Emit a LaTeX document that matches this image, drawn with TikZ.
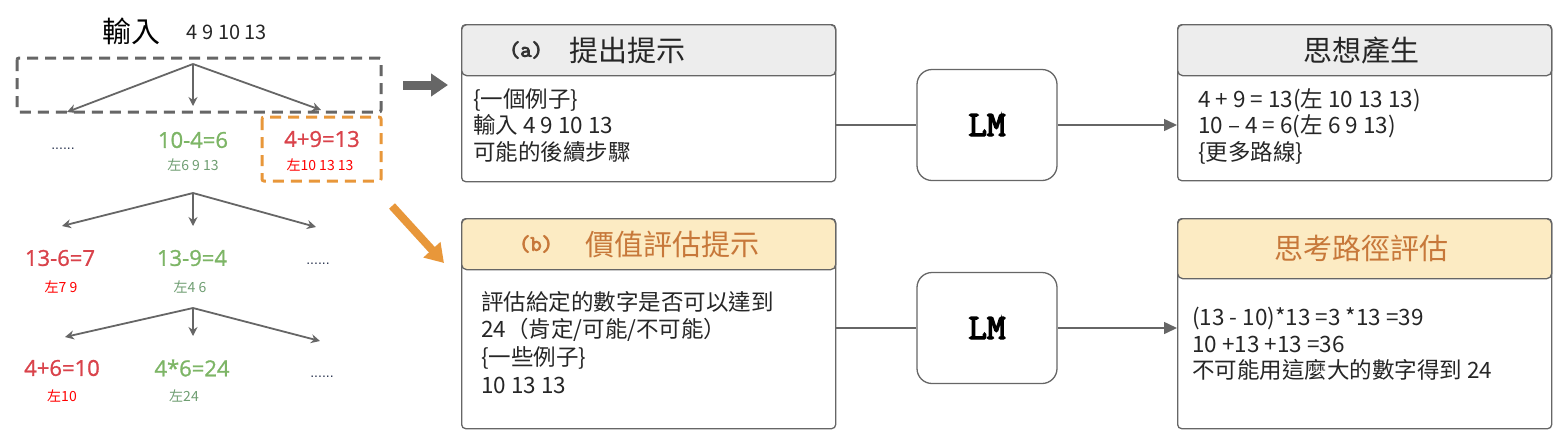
\documentclass[tikz,border=0pt]{standalone}
\usepackage{fontspec}
\setmainfont{Liberation Sans}
\newfontfamily\cjk{Noto Sans CJK TC}
\newfontfamily\treefont{Open Sans}[FakeBold=1.2]
\newfontfamily\monob{Latin Modern Mono}[FakeBold=4]
\usetikzlibrary{positioning}
\usetikzlibrary{arrows.meta}
\usepackage{xcolor}
\definecolor{linegray}{HTML}{666666}
\definecolor{headgray}{HTML}{EDEDED}
\definecolor{headyellow}{HTML}{FCEBC3}
\definecolor{txtorange}{HTML}{C7783A}
\definecolor{arroworange}{HTML}{E8973A}
\definecolor{eqred}{HTML}{D9434B}
\definecolor{eqgreen}{HTML}{7DB566}
\definecolor{lblgreen}{HTML}{6F9E72}
\definecolor{dotnavy}{HTML}{2B3550}

\tikzset{
  panel/.style={draw=linegray, line width=1.3pt, rounded corners=4pt, fill=white,
    minimum width=374, minimum height=#1, inner sep=0, anchor=north west},
  header/.style={draw=linegray, line width=1.3pt, rounded corners=5pt, fill=#1,
    minimum width=374, minimum height=51, inner sep=0, anchor=north west},
  bodytext/.style={align=left, anchor=north west, inner sep=0, text=black!85,
    font=\cjk\fontsize{22.5}{#1}\selectfont},
  headtext/.style={font=\cjk\fontsize{29}{29}\selectfont, text=#1},
  tag/.style={font=\monob\fontsize{22}{22}\selectfont, text=#1},
  lmbox/.style={draw=linegray, line width=1.3pt, rounded corners=15pt, fill=white,
    minimum width=140, minimum height=111, font=\monob\fontsize{36}{36}\selectfont},
  treearrow/.style={draw=linegray, line width=1.8pt, -{Stealth[length=9pt,width=9pt]}},
  flowarrow/.style={draw=linegray, line width=1.5pt},
  eqr/.style={text=eqred, font=\treefont\fontsize{22}{22}\selectfont},
  eqg/.style={text=eqgreen, font=\treefont\fontsize{22}{22}\selectfont},
  lblr/.style={text=red, font=\cjk\fontsize{14}{14}\selectfont},
  lblg/.style={text=lblgreen, font=\cjk\fontsize{14}{14}\selectfont},
  dots/.style={text=dotnavy, font=\fontsize{14}{14}\selectfont},
}

\begin{document}
\begin{tikzpicture}[x=1pt, y=-1pt]
    \useasboundingbox (0,0) rectangle (1557,440);

    % search tree on the left
    \node[font=\cjk\fontsize{29}{29}\selectfont] (intitle) at (131,31) {輸入};
    \node[font=\cjk\fontsize{20}{20}\selectfont, text=black!85] (innums) at (227,32) {4 9 10 13};
    \draw[linegray, line width=3pt, dash pattern=on 11pt off 7pt, rounded corners=2pt]
        (17,58) rectangle (381,112);
    \draw[arroworange, line width=3pt, dash pattern=on 11pt off 7pt, rounded corners=2pt]
        (262,117) rectangle (381,181);

    \coordinate (r1) at (193,64);
    \coordinate (r2) at (193,193);
    \coordinate (r3) at (193,308);

    \node[dots] (d1) at (63,149) {......};
    \node[eqg] (n1) at (193,140) {10-4=6};
    \node[lblg] (m1) at (193,165) {左6 9 13};
    \node[eqr] (n2) at (322,139) {4+9=13};
    \node[lblr] (m2) at (320,165) {左10 13 13};

    \node[eqr] (n3) at (60,258) {13-6=7};
    \node[lblr] (m3) at (61,287) {左7 9};
    \node[eqg] (n4) at (192,258) {13-9=4};
    \node[lblg] (m4) at (190,287) {左4 6};
    \node[dots] (d2) at (318,264) {......};

    \node[eqr] (n5) at (62,368) {4+6=10};
    \node[lblr] (m5) at (62,396) {左10};
    \node[eqg] (n6) at (192,368) {4*6=24};
    \node[lblg] (m6) at (184,396) {左24};
    \node[dots] (d3) at (322,377) {......};

    \coordinate (a1) at (67,112);
    \coordinate (a2) at (193,106);
    \coordinate (a3) at (321,110);
    \draw[treearrow] (r1) -- (a1);
    \draw[treearrow] (r1) -- (a2);
    \draw[treearrow] (r1) -- (a3);
    \coordinate (b1) at (62,226);
    \coordinate (b2) at (193,226);
    \coordinate (b3) at (316,227);
    \draw[treearrow] (r2) -- (b1);
    \draw[treearrow] (r2) -- (b2);
    \draw[treearrow] (r2) -- (b3);
    \coordinate (c1) at (65,337);
    \coordinate (c2) at (193,336);
    \coordinate (c3) at (320,341);
    \draw[treearrow] (r3) -- (c1);
    \draw[treearrow] (r3) -- (c2);
    \draw[treearrow] (r3) -- (c3);

    % big arrows into the prompts
    \coordinate (ga) at (403,85);
    \coordinate (gb) at (448,85);
    \draw[linegray, line width=9pt, -{Triangle[length=17pt,width=22pt]}] (ga) -- (gb);
    \coordinate (oa) at (392,206);
    \coordinate (ob) at (444,263);
    \draw[arroworange, line width=8pt, -{Triangle[length=18pt,width=22pt]}] (oa) -- (ob);

    % prompt (a)
    \node[panel=157] (propose) at (461,24) {};
    \node[header=headgray] (proposehead) at (461,24) {};
    \node[tag=black!80] (pa) at (526,50) {(a)};
    \node[headtext=black!85] (pat) at (627,50) {提出提示};
    \node[bodytext=26.5] (proposebody) at (473,88) {\{一個例子\}\\輸入 4 9 10 13\\可能的後續步驟};

    % prompt (b)
    \node[panel=210] (value) at (461,218) {};
    \node[header=headyellow] (valuehead) at (461,218) {};
    \node[tag=txtorange] (pb) at (536,244) {(b)};
    \node[headtext=txtorange] (pbt) at (672,244) {價值評估提示};
    \node[bodytext=27.7] (valuebody) at (481,291) {評估給定的數字是否可以達到\\24（肯定/可能/不可能）\\\{一些例子\}\\10 13 13};

    % language model
    \node[lmbox] (lma) at (987,125) {LM};
    \node[lmbox] (lmb) at (987,328) {LM};

    % outputs
    \node[panel=156] (gen) at (1177,24) {};
    \node[header=headgray] (genhead) at (1177,24) {};
    \node[headtext=black!85] (gent) at (1361,50) {思想產生};
    \node[bodytext=26.5] (genbody) at (1198,88) {4 + 9 = 13(左 10 13 13)\\10 – 4 = 6(左 6 9 13)\\\{更多路線\}};

    \node[panel=210] (eval) at (1177,218) {};
    \node[header=headyellow, minimum height=60] (evalhead) at (1177,218) {};
    \node[headtext=txtorange] (evalt) at (1361,248) {思考路徑評估};
    \node[bodytext=26.5] (evalbody) at (1192,307) {(13 - 10)*13 =3 *13 =39\\10 +13 +13 =36\\不可能用這麼大的數字得到 24};

    % connectors
    \draw[flowarrow] (lma.west -| propose.east) -- (lma.west);
    \draw[flowarrow, -{Triangle[length=13pt,width=12pt]}] (lma.east) -- (lma.east -| gen.west);
    \draw[flowarrow] (lmb.west -| value.east) -- (lmb.west);
    \draw[flowarrow, -{Triangle[length=13pt,width=12pt]}] (lmb.east) -- (lmb.east -| eval.west);
\end{tikzpicture}
\end{document}
